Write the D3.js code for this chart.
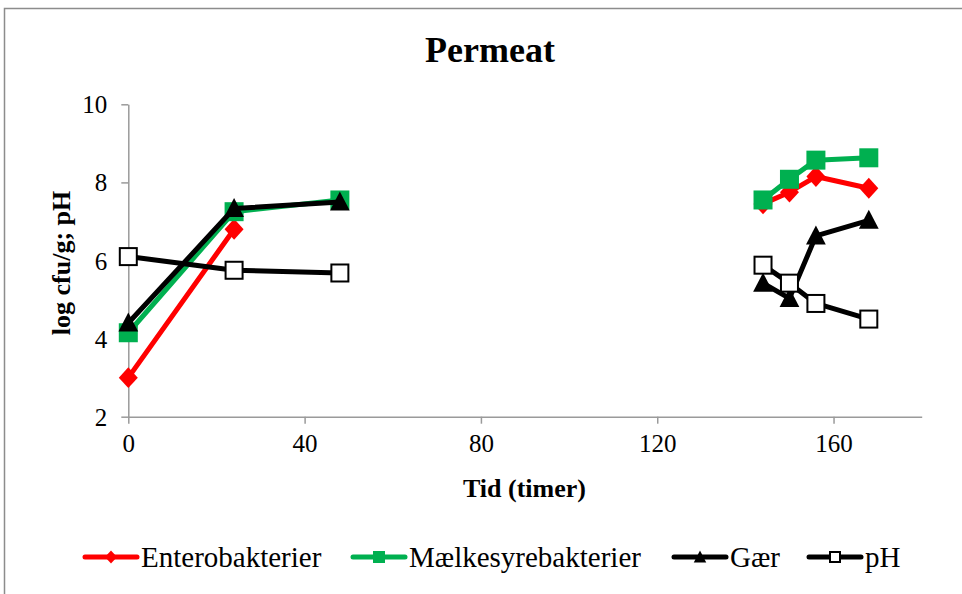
<!DOCTYPE html>
<html>
<head>
<meta charset="utf-8">
<script src="https://cdn.jsdelivr.net/npm/d3@7"></script>
<style>
  html, body { margin: 0; padding: 0; background: #fff; }
  svg { display: block; }
  text { font-family: "Liberation Serif", "Times New Roman", serif; fill: #000; }
</style>
</head>
<body>
<svg id="chart" width="962" height="594"></svg>
<script>
// Sampling times (hours)
const hoursEarly = [0, 24, 48];
const hoursLate = [144, 150, 156, 168];

// Series values (log cfu/g, pH)
const enteroEarly = [3.0, 6.8, null];
const enteroLate = [7.45, 7.75, 8.15, 7.85];
const maelkEarly = [4.15, 7.25, 7.55];
const maelkLate = [7.55, 8.08, 8.57, 8.63];
const gaerEarly = [4.4, 7.33, 7.5];
const gaerLate = [5.42, 5.03, 6.63, 7.03];
const phEarly = [6.1, 5.75, 5.68];
const phLate = [5.88, 5.42, 4.9, 4.5];

const seriesNames = ["Enterobakterier", "Mælkesyrebakterier", "Gær", "pH"];
const xTicks = [0, 40, 80, 120, 160];
const yTicks = [2, 4, 6, 8, 10];

const titleText = "Permeat";
const xTitle = "Tid (timer)";
const yTitle = "log cfu/g; pH";

const styles = [
  { color: "#ff0000", marker: "diamond" },
  { color: "#00b050", marker: "square" },
  { color: "#000000", marker: "triangle" },
  { color: "#000000", marker: "open" }
];

const series = [
  [enteroEarly, enteroLate],
  [maelkEarly, maelkLate],
  [gaerEarly, gaerLate],
  [phEarly, phLate]
].map((pair, i) => ({
  name: seriesNames[i],
  style: styles[i],
  segments: [
    hoursEarly.map((h, j) => ({ x: h, y: pair[0][j] })).filter(d => d.y != null),
    hoursLate.map((h, j) => ({ x: h, y: pair[1][j] })).filter(d => d.y != null)
  ]
}));

const svg = d3.select("#chart");
const axisColor = "#9a9a9a";

// Outer chart frame
svg.append("rect")
  .attr("x", 4.5).attr("y", 8.5)
  .attr("width", 980).attr("height", 620)
  .attr("fill", "none").attr("stroke", "#8c8c8c").attr("stroke-width", 1.5);

const plot = { left: 128.3, right: 921.7, top: 104.3, bottom: 416.7 };

const x = d3.scaleLinear().domain([0, 180]).range([plot.left, plot.right]);
const y = d3.scaleLinear().domain([2, 10]).range([plot.bottom, plot.top]);

// Axes
const xAxis = svg.append("g")
  .attr("transform", `translate(0,${plot.bottom})`)
  .call(d3.axisBottom(x).tickValues(xTicks).tickSize(7).tickSizeOuter(0).tickPadding(10));
const yAxis = svg.append("g")
  .attr("transform", `translate(${plot.left},0)`)
  .call(d3.axisLeft(y).tickValues(yTicks).tickSize(7).tickSizeOuter(0).tickPadding(14));

[xAxis, yAxis].forEach(g => {
  g.select(".domain").attr("stroke", axisColor).attr("stroke-width", 1.5);
  g.selectAll(".tick line").attr("stroke", axisColor).attr("stroke-width", 1.5);
  g.selectAll(".tick text")
    .attr("font-family", "Liberation Serif, Times New Roman, serif")
    .attr("font-size", 25).attr("fill", "#000");
});
xAxis.selectAll(".tick text").attr("dy", "0.75em");
yAxis.selectAll(".tick text").attr("dy", "0.34em");

// Titles
svg.append("text")
  .attr("x", 490).attr("y", 62)
  .attr("text-anchor", "middle")
  .attr("font-size", 36).attr("font-weight", "bold")
  .text(titleText);

svg.append("text")
  .attr("x", 524.5).attr("y", 497)
  .attr("text-anchor", "middle")
  .attr("font-size", 26).attr("font-weight", "bold")
  .text(xTitle);

svg.append("text")
  .attr("transform", "translate(70,263) rotate(-90)")
  .attr("text-anchor", "middle")
  .attr("font-size", 26).attr("font-weight", "bold")
  .text(yTitle);

// Marker drawing
function drawMarker(g, type, color, cx, cy, s) {
  if (type === "diamond") {
    g.append("path")
      .attr("d", `M${cx},${cy - s * 0.55}L${cx + s * 0.5},${cy}L${cx},${cy + s * 0.55}L${cx - s * 0.5},${cy}Z`)
      .attr("fill", color);
  } else if (type === "square") {
    g.append("rect")
      .attr("x", cx - s / 2).attr("y", cy - s / 2)
      .attr("width", s).attr("height", s).attr("fill", color);
  } else if (type === "triangle") {
    g.append("path")
      .attr("d", `M${cx},${cy - s * 0.55}L${cx + s * 0.52},${cy + s * 0.45}L${cx - s * 0.52},${cy + s * 0.45}Z`)
      .attr("fill", color);
  } else {
    g.append("rect")
      .attr("x", cx - s / 2 + 1).attr("y", cy - s / 2 + 1)
      .attr("width", s - 2).attr("height", s - 2)
      .attr("fill", "#fff").attr("stroke", color).attr("stroke-width", 2);
  }
}

const line = d3.line().x(d => x(d.x)).y(d => y(d.y));
const plotG = svg.append("g");

series.forEach(s => {
  const g = plotG.append("g");
  s.segments.forEach(seg => {
    g.append("path")
      .attr("d", line(seg))
      .attr("fill", "none")
      .attr("stroke", s.style.color)
      .attr("stroke-width", 5)
      .attr("stroke-linejoin", "round")
      .attr("stroke-linecap", "round");
  });
  s.segments.forEach(seg => {
    seg.forEach(d => drawMarker(g, s.style.marker, s.style.color, x(d.x), y(d.y),
      s.style.marker === "open" ? 19 : 19));
  });
});

// Legend
const legendY = 557;
const legendStarts = [83, 351, 672, 807];
series.forEach((s, i) => {
  const g = svg.append("g");
  const x0 = legendStarts[i];
  g.append("line")
    .attr("x1", x0 + 2).attr("x2", x0 + 54)
    .attr("y1", legendY).attr("y2", legendY)
    .attr("stroke", s.style.color).attr("stroke-width", 5)
    .attr("stroke-linecap", "round");
  drawMarker(g, s.style.marker, s.style.color, x0 + 28, legendY, 12);
  g.append("text")
    .attr("x", x0 + 58).attr("y", legendY + 10)
    .attr("font-size", 29)
    .text(s.name);
});
</script>
</body>
</html>
